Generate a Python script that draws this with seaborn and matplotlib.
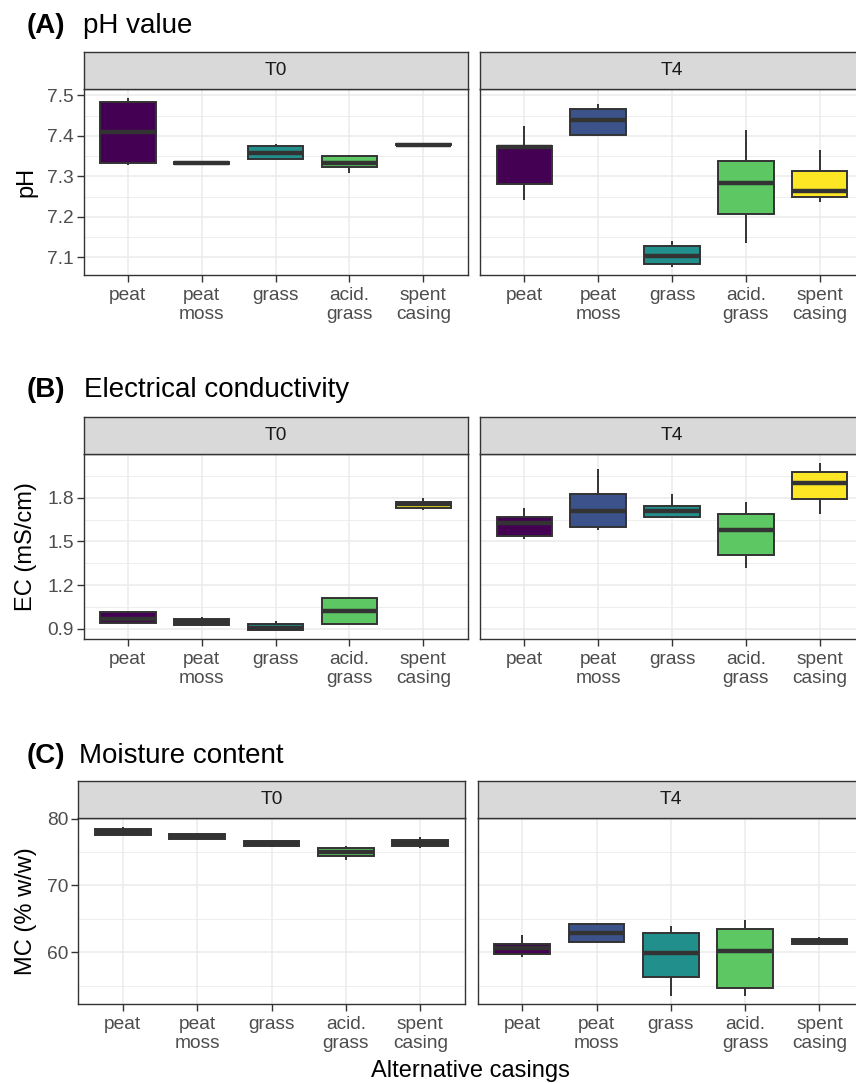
import numpy as np
import pandas as pd
import seaborn as sns
import matplotlib
matplotlib.use("Agg")
import matplotlib.pyplot as plt
from matplotlib.ticker import FixedLocator

sns.set_style("white")
plt.rcParams['font.family'] = ['Liberation Sans', 'DejaVu Sans']
plt.rcParams['text.color'] = 'black'

# categories and colours (viridis, 5 levels)
casings = ["peat", "peat moss", "grass", "acid. grass", "spent casing"]
casing_labels = ["peat", "peat\nmoss", "grass", "acid.\ngrass", "spent\ncasing"]
colors = ["#440154", "#3B528B", "#21908C", "#5DC863", "#FDE725"]

# each box: lower whisker, Q1, median, Q3, upper whisker
ph_t0 = [[7.328, 7.334, 7.409, 7.483, 7.494],
         [7.328, 7.330, 7.332, 7.335, 7.337],
         [7.341, 7.342, 7.357, 7.375, 7.380],
         [7.309, 7.324, 7.334, 7.350, 7.352],
         [7.376, 7.377, 7.378, 7.379, 7.380]]
ph_t4 = [[7.241, 7.280, 7.372, 7.376, 7.424],
         [7.400, 7.401, 7.440, 7.465, 7.479],
         [7.077, 7.083, 7.104, 7.129, 7.139],
         [7.136, 7.208, 7.284, 7.337, 7.415],
         [7.237, 7.249, 7.264, 7.314, 7.364]]

ec_t0 = [[0.935, 0.939, 0.970, 1.014, 1.016],
         [0.920, 0.927, 0.945, 0.969, 0.980],
         [0.888, 0.890, 0.907, 0.930, 0.957],
         [0.932, 0.933, 1.024, 1.111, 1.112],
         [1.715, 1.731, 1.757, 1.772, 1.796]]
ec_t4 = [[1.520, 1.541, 1.628, 1.665, 1.731],
         [1.577, 1.600, 1.708, 1.828, 1.996],
         [1.669, 1.670, 1.708, 1.745, 1.825],
         [1.320, 1.410, 1.577, 1.688, 1.773],
         [1.692, 1.793, 1.899, 1.975, 2.041]]

mc_t0 = [[77.5, 77.5, 77.95, 78.4, 78.8],
         [77.0, 77.0, 77.4, 77.75, 77.8],
         [75.9, 75.9, 76.3, 76.65, 76.7],
         [73.75, 74.4, 75.0, 75.65, 75.85],
         [75.6, 75.85, 76.35, 76.75, 77.25]]
mc_t4 = [[59.26, 59.76, 60.66, 61.26, 62.6],
         [61.5, 61.51, 62.86, 64.16, 64.36],
         [53.51, 56.26, 59.86, 62.86, 63.86],
         [53.51, 54.61, 60.26, 63.51, 64.76],
         [61.2, 61.26, 61.66, 62.01, 62.26]]

ph_ticks = [7.1, 7.2, 7.3, 7.4, 7.5]
ph_ticklabels = ["7.1", "7.2", "7.3", "7.4", "7.5"]
ph_minor = [7.05, 7.15, 7.25, 7.35, 7.45]
ec_ticks = [0.9, 1.2, 1.5, 1.8]
ec_ticklabels = ["0.9", "1.2", "1.5", "1.8"]
ec_minor = [1.05, 1.35, 1.65, 1.95]
mc_ticks = [60, 70, 80]
mc_ticklabels = ["60", "70", "80"]
mc_minor = [55, 65, 75]

facets = ["T0", "T4"]

W, H = 856, 1083


def rect(x0, y0, x1, y1):
    return [x0 / W, 1 - y1 / H, (x1 - x0) / W, (y1 - y0) / H]


def long_frame(boxes):
    rows = []
    for casing, vals in zip(casings, boxes):
        for v in vals:
            rows.append((casing, v))
    return pd.DataFrame(rows, columns=["casing", "value"])


rows = [
    dict(letter="(A)", title="pH value", ylabel="pH", data=(ph_t0, ph_t4),
         ticks=ph_ticks, ticklabels=ph_ticklabels, minor=ph_minor,
         title_y=33, title_x=83, strip_top=51.7, top=89.3, bottom=275,
         xs=[(83.5, 467.7), (480, 864)]),
    dict(letter="(B)", title="Electrical conductivity", ylabel="EC (mS/cm)",
         data=(ec_t0, ec_t4), ticks=ec_ticks, ticklabels=ec_ticklabels, minor=ec_minor,
         title_y=397, title_x=84, strip_top=416.7, top=454.3, bottom=639,
         xs=[(83.5, 467.7), (480, 864)]),
    dict(letter="(C)", title="Moisture content", ylabel="MC (% w/w)",
         data=(mc_t0, mc_t4), ticks=mc_ticks, ticklabels=mc_ticklabels, minor=mc_minor,
         title_y=762.7, title_x=79, strip_top=781, top=818.3, bottom=1004,
         xs=[(78, 465), (477.7, 864)]),
]

fig = plt.figure(figsize=(W / 100, H / 100), dpi=100)

for row in rows:
    allvals = np.concatenate([np.ravel(d) for d in row["data"]])
    lo, hi = allvals.min(), allvals.max()
    pad = 0.05 * (hi - lo)

    for j, (facet, boxes) in enumerate(zip(facets, row["data"])):
        x0, x1 = row["xs"][j]
        ax = fig.add_axes(rect(x0, row["top"], x1, row["bottom"]))
        df = long_frame(boxes)
        sns.boxplot(data=df, x="casing", y="value", hue="casing", order=casings,
                    hue_order=casings, palette=colors, saturation=1, width=0.75,
                    linecolor="#333333", linewidth=1.4, whis=(0, 100),
                    showcaps=False, medianprops={"linewidth": 3.2},
                    legend=False, ax=ax)
        ax.set_xlim(-0.6, 4.6)
        ax.set_ylim(lo - pad, hi + pad)
        ax.set_xlabel("")
        ax.set_ylabel("")
        ax.set_xticks(range(len(casings)))
        ax.set_xticklabels(casing_labels, fontsize=13.8, color="#4D4D4D",
                           linespacing=1.2)
        ax.set_yticks(row["ticks"])
        ax.yaxis.set_minor_locator(FixedLocator(row["minor"]))
        if j == 0:
            ax.set_yticklabels(row["ticklabels"], fontsize=13.8, color="#4D4D4D")
            ax.tick_params(axis="y", which="major", length=5, width=1,
                           color="#333333", pad=1.8, left=True)
        else:
            ax.tick_params(axis="y", which="major", left=False, labelleft=False)
        ax.tick_params(axis="x", which="major", length=5, width=1,
                       color="#333333", pad=3.5, bottom=True)
        ax.tick_params(which="minor", length=0)
        ax.set_axisbelow(True)
        ax.grid(which="major", color="#EBEBEB", linewidth=1.1)
        ax.grid(which="minor", axis="y", color="#EBEBEB", linewidth=0.6)
        for sp in ax.spines.values():
            sp.set_color("#333333")
            sp.set_linewidth(1.0)

        # facet strip
        sax = fig.add_axes(rect(x0, row["strip_top"], x1, row["top"]))
        sax.set_facecolor("#D9D9D9")
        sax.set_xticks([])
        sax.set_yticks([])
        for sp in sax.spines.values():
            sp.set_color("#333333")
            sp.set_linewidth(1.0)
        sax.text(0.5, 0.5, facet, ha="center", va="center", transform=sax.transAxes,
                 fontsize=13.8, color="#1A1A1A")

    # panel title
    fig.text(27 / W, 1 - row["title_y"] / H, row["letter"], fontsize=20,
             fontweight="bold", va="baseline", ha="left")
    fig.text(row["title_x"] / W, 1 - row["title_y"] / H, row["title"], fontsize=20,
             va="baseline", ha="left")
    # y axis title
    fig.text(26 / W, 1 - (row["top"] + row["bottom"]) / 2 / H, row["ylabel"],
             rotation=90, fontsize=17, ha="center", va="center")

fig.text(470 / W, 1 - 1076.7 / H, "Alternative casings", fontsize=17,
         ha="center", va="baseline")

fig.savefig("out.png", dpi=100)
